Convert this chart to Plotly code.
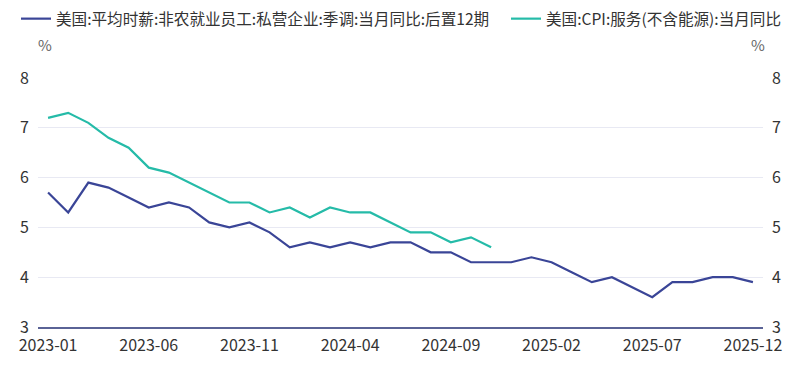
import plotly.graph_objects as go

months = [f"{y}-{m:02d}" for y in (2023, 2024, 2025) for m in range(1, 13)]

wage_yoy_lead12 = [5.7, 5.3, 5.9, 5.8, 5.6, 5.4, 5.5, 5.4, 5.1, 5.0, 5.1, 4.9,
                   4.6, 4.7, 4.6, 4.7, 4.6, 4.7, 4.7, 4.5, 4.5, 4.3, 4.3, 4.3,
                   4.4, 4.3, 4.1, 3.9, 4.0, 3.8, 3.6, 3.9, 3.9, 4.0, 4.0, 3.9]

cpi_services_ex_energy = [7.2, 7.3, 7.1, 6.8, 6.6, 6.2, 6.1, 5.9, 5.7, 5.5, 5.5, 5.3,
                          5.4, 5.2, 5.4, 5.3, 5.3, 5.1, 4.9, 4.9, 4.7, 4.8, 4.6]

tick_labels = ["2023-01", "2023-06", "2023-11", "2024-04", "2024-09", "2025-02", "2025-07", "2025-12"]

name1 = "美国:平均时薪:非农就业员工:私营企业:季调:当月同比:后置12期"
name2 = "美国:CPI:服务(不含能源):当月同比"

FONT = "Noto Sans CJK SC, Microsoft YaHei, sans-serif"

W, H = 800, 365
L, R, T, B = 38, 37, 78, 38
PW, PH = W - L - R, H - T - B

fig = go.Figure()
fig.add_trace(go.Scatter(x=months, y=wage_yoy_lead12, name=name1, mode="lines",
                         legend="legend",
                         line=dict(color="#3a4597", width=2.2)))
fig.add_trace(go.Scatter(x=months[:len(cpi_services_ex_energy)], y=cpi_services_ex_energy,
                         name=name2, mode="lines", yaxis="y2", legend="legend2",
                         line=dict(color="#25bba8", width=2.2)))

legend_common = dict(orientation="h", yanchor="middle", yref="container", xref="container",
                     xanchor="left", font=dict(size=15.6, color="#333333"),
                     itemwidth=30, bgcolor="rgba(0,0,0,0)")

fig.update_layout(
    width=W, height=H,
    margin=dict(l=L, r=R, t=T, b=B, autoexpand=False),
    paper_bgcolor="white", plot_bgcolor="white",
    font=dict(family=FONT, color="#333333", size=15),
    showlegend=True,
    legend=dict(x=16 / W, y=1 - 19 / H, **legend_common),
    legend2=dict(x=506 / W, y=1 - 19 / H, **legend_common),
    xaxis=dict(type="category", categoryorder="array", categoryarray=months,
               range=[-0.5, len(months) - 0.5],
               tickmode="array", tickvals=tick_labels, ticktext=tick_labels,
               showgrid=False, showline=True, linecolor="#5a6396", linewidth=1.5,
               ticks="", tickfont=dict(size=16, color="#333333"), zeroline=False,
               ticklabelstandoff=3, automargin=False),
    yaxis=dict(range=[3, 8], dtick=1, showgrid=True, gridcolor="#e8e9f3", gridwidth=1,
               zeroline=False, showline=False, ticks="", tickfont=dict(size=16, color="#333333"),
               ticklabelstandoff=8, automargin=False),
    yaxis2=dict(range=[3, 8], dtick=1, overlaying="y", side="right", showgrid=False,
                zeroline=False, showline=False, ticks="", tickfont=dict(size=16, color="#333333"),
                ticklabelstandoff=8, automargin=False),
)

fig.add_annotation(text="%", xref="paper", yref="paper", x=(45 - L) / PW, y=1 + (T - 44) / PH,
                   showarrow=False, font=dict(size=15, color="#666666"), xanchor="center", yanchor="middle")
fig.add_annotation(text="%", xref="paper", yref="paper", x=(758 - L) / PW, y=1 + (T - 44) / PH,
                   showarrow=False, font=dict(size=15, color="#666666"), xanchor="center", yanchor="middle")

fig.write_html("out.html", config={"displayModeBar": False},
               post_script="document.body.style.margin='0';")
